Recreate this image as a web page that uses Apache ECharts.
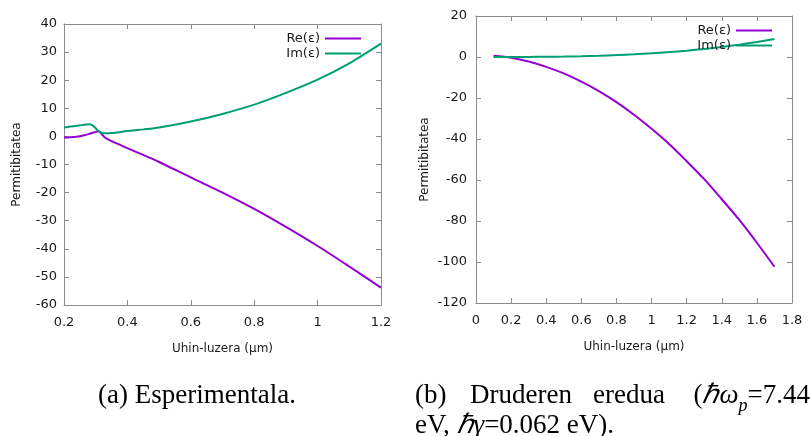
<!DOCTYPE html>
<html>
<head>
<meta charset="utf-8">
<script src="https://cdn.jsdelivr.net/npm/echarts@6/dist/echarts.min.js"></script>
<style>
    html, body { margin: 0; padding: 0; background: #fff; }
    #chart { width: 810px; height: 436px; }
</style>
</head>
<body>
<div id="chart"></div>
<script>
// (a) experimental data
var expWavelength = [0.2, 0.22, 0.24, 0.26, 0.28, 0.29, 0.3, 0.31, 0.32, 0.33, 0.35, 0.4, 0.45, 0.5, 0.6, 0.7, 0.8, 0.9, 1.0, 1.1, 1.2];
var expRe = [-0.4, -0.3, -0.1, 0.3, 0.9, 1.3, 1.6, 1.8, 0.7, -0.5, -1.7, -4.2, -6.6, -9.1, -14.6, -20.0, -25.8, -32.2, -39.0, -46.3, -53.8];
var expIm = [3.2, 3.5, 3.8, 4.1, 4.3, 3.9, 2.9, 1.8, 1.2, 1.1, 1.2, 1.9, 2.5, 3.2, 5.3, 8.0, 11.3, 15.5, 20.2, 26.0, 33.0];

// (b) Drude model
var drudeWavelength = [0.1, 0.2, 0.3, 0.4, 0.5, 0.6, 0.7, 0.8, 0.9, 1.0, 1.1, 1.2, 1.3, 1.4, 1.5, 1.6, 1.7];
var drudeRe = [0.6, -0.4, -2.2, -4.8, -8.0, -12.0, -16.6, -22.0, -28.2, -35.0, -42.4, -50.8, -59.6, -69.4, -79.5, -90.6, -102.3];
var drudeIm = [0.0, 0.01, 0.05, 0.12, 0.22, 0.39, 0.62, 0.92, 1.31, 1.80, 2.39, 3.10, 3.94, 4.92, 6.04, 7.33, 8.78];

var seriesNames = ['Re(ε)', 'Im(ε)'];
var colors = ['#9400d3', '#009e73'];
var xTitle = 'Uhin-luzera (μm)';
var yTitle = 'Permitibitatea';

var axisColor = '#8c8c8c';
var labelFont = { color: '#1a1a1a', fontFamily: 'DejaVu Sans', fontSize: 13 };

function pair(xs, ys) {
    var out = [];
    for (var i = 0; i < xs.length; i++) {
        out.push([xs[i], ys[i]]);
    }
    return out;
}

function xAxes(gridIndex, min, max, interval) {
    var base = {
        type: 'value', gridIndex: gridIndex, min: min, max: max, interval: interval,
        axisLine: { onZero: false, lineStyle: { color: axisColor, width: 1 } },
        axisTick: { inside: true, length: 5, lineStyle: { color: axisColor } },
        splitLine: { show: false }
    };
    var bottom = Object.assign({}, base, {
        position: 'bottom',
        name: xTitle, nameLocation: 'middle', nameGap: 38,
        nameTextStyle: { color: '#1a1a1a', fontFamily: 'DejaVu Sans', fontSize: 12 },
        axisLabel: Object.assign({ margin: 11, formatter: function (v) { return String(+v.toFixed(1)); } }, labelFont)
    });
    var top = Object.assign({}, base, { position: 'top', axisLabel: { show: false } });
    return [bottom, top];
}

function yAxes(gridIndex, min, max, interval, nameGap, labelMargin) {
    var base = {
        type: 'value', gridIndex: gridIndex, min: min, max: max, interval: interval,
        axisLine: { show: true, onZero: false, lineStyle: { color: axisColor, width: 1 } },
        axisTick: { show: true, inside: true, length: 5, lineStyle: { color: axisColor } },
        splitLine: { show: false }
    };
    var left = Object.assign({}, base, {
        position: 'left',
        name: yTitle, nameLocation: 'middle', nameGap: nameGap,
        nameTextStyle: { color: '#1a1a1a', fontFamily: 'DejaVu Sans', fontSize: 12 },
        axisLabel: Object.assign({ margin: labelMargin }, labelFont)
    });
    var right = Object.assign({}, base, { position: 'right', axisLabel: { show: false } });
    return [left, right];
}

function lineSeries(name, data, color, xi, yi, smooth) {
    return {
        name: name, type: 'line', data: data,
        xAxisIndex: xi, yAxisIndex: yi,
        showSymbol: false, smooth: smooth,
        lineStyle: { color: color, width: 2 },
        itemStyle: { color: color }
    };
}

function legendAt(right, top) {
    return {
        data: seriesNames, orient: 'vertical', align: 'right',
        right: right, top: top, itemGap: 2,
        icon: 'rect', itemWidth: 36, itemHeight: 2,
        textStyle: { color: '#1a1a1a', fontFamily: 'DejaVu Sans', fontSize: 13 }
    };
}

var captionFont = 'Liberation Serif';

var chart = echarts.init(document.getElementById('chart'));
chart.setOption({
    animation: false,
    backgroundColor: '#fff',
    grid: [
        { left: 64, right: 429, top: 24, bottom: 131 },
        { left: 476, right: 18, top: 16, bottom: 133 }
    ],
    legend: [legendAt(444, 27), legendAt(33, 19)],
    xAxis: xAxes(0, 0.2, 1.2, 0.2).concat(xAxes(1, 0, 1.8, 0.2)),
    yAxis: yAxes(0, -60, 40, 10, 41, 7).concat(yAxes(1, -120, 20, 20, 45, 9)),
    series: [
        lineSeries(seriesNames[0], pair(expWavelength, expRe), colors[0], 0, 0, 0.3),
        lineSeries(seriesNames[1], pair(expWavelength, expIm), colors[1], 0, 0, 0.3),
        lineSeries(seriesNames[0], pair(drudeWavelength, drudeRe), colors[0], 2, 2, 0.3),
        lineSeries(seriesNames[1], pair(drudeWavelength, drudeIm), colors[1], 2, 2, 0.3)
    ],
    graphic: [
        { type: 'text', left: 98, top: 382, style: { text: '(a) Esperimentala.', font: '27px "' + captionFont + '"', fill: '#000' } },
        { type: 'text', left: 415, top: 382, style: { text: '(b)', font: '27px "' + captionFont + '"', fill: '#000' } },
        { type: 'text', left: 470, top: 382, style: { text: 'Druderen', font: '27px "' + captionFont + '"', fill: '#000' } },
        { type: 'text', left: 593, top: 382, style: { text: 'eredua', font: '27px "' + captionFont + '"', fill: '#000' } },
        {
            type: 'text', right: 0, top: 382,
            style: {
                text: '{n|(}{i|ℏω}{s|p}{n|=7.44}',
                rich: {
                    n: { fontFamily: captionFont, fontSize: 27, lineHeight: 30, verticalAlign: 'bottom', padding: [0, 0, 2, 0] },
                    i: { fontFamily: captionFont, fontSize: 27, fontStyle: 'italic', lineHeight: 30, verticalAlign: 'bottom', padding: [0, 0, 2, 0] },
                    s: { fontFamily: captionFont, fontSize: 18, fontStyle: 'italic', lineHeight: 30, verticalAlign: 'bottom', padding: [0, 0, -4, 0] }
                }
            }
        },
        {
            type: 'text', left: 415, top: 412,
            style: {
                text: '{n|eV, }{i|ℏγ}{n|=0.062 eV).}',
                rich: {
                    n: { fontFamily: captionFont, fontSize: 27 },
                    i: { fontFamily: captionFont, fontSize: 27, fontStyle: 'italic' }
                }
            }
        }
    ]
});
</script>
</body>
</html>
